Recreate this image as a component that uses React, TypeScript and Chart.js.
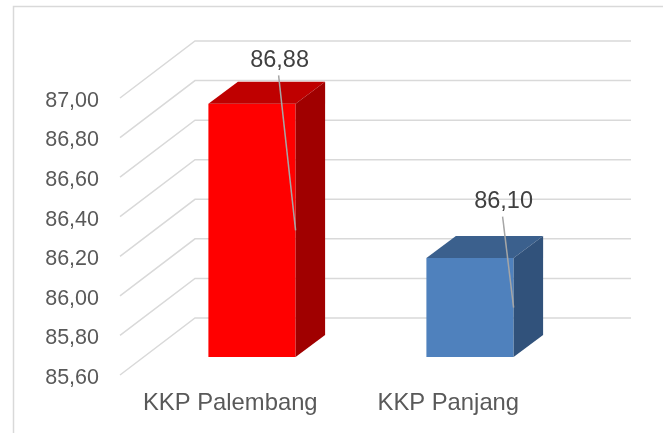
import React, { useEffect, useRef } from "react";
import { Chart, registerables } from "chart.js";

Chart.register(...registerables);

const categories = ["KKP Palembang", "KKP Panjang"];
const values = [86.88, 86.1];
const yTicks = [85.6, 85.8, 86.0, 86.2, 86.4, 86.6, 86.8, 87.0];
const frontColors = ["#FF0000", "#4F81BD"];
const topColors = ["#BF0000", "#3B608D"];
const sideColors = ["#A00000", "#31527B"];
const labelShifts = [[-17, -172], [-11, -108]];

const fmt = (v: number) => v.toFixed(2).replace(".", ",");
const FONT = "'Liberation Sans', Arial, sans-serif";
const GRID = "#D9D9D9";

const wall = { dx: 75, dy: -57 };
const barOffset = { dx: 23, dy: -18 };
const barDepth = { dx: 29.5, dy: -22 };

const poly = (ctx: CanvasRenderingContext2D, pts: number[][], fill: string) => {
  ctx.beginPath();
  pts.forEach(([x, y], i) => (i ? ctx.lineTo(x, y) : ctx.moveTo(x, y)));
  ctx.closePath();
  ctx.fillStyle = fill;
  ctx.fill();
};

// nudges a scale's tick labels without moving the scale itself
const nudgeLabels = (s: any, dx: number, dy: number) => {
  if (s.__nudged) return;
  s.__nudged = true;
  const orig = s.drawLabels;
  s.drawLabels = function (area: any) {
    s.ctx.save();
    s.ctx.translate(dx, dy);
    orig.call(s, area);
    s.ctx.restore();
  };
};

const threeD = {
  id: "threeD",
  beforeDraw(chart: any) {
    const { ctx, chartArea, scales } = chart;
    ctx.save();
    ctx.strokeStyle = GRID;
    ctx.lineWidth = 1.5;
    ctx.beginPath();
    ctx.moveTo(13.5, 433);
    ctx.lineTo(13.5, 6.5);
    ctx.lineTo(663, 6.5);
    ctx.stroke();
    yTicks.forEach((t) => {
      const y = scales.y.getPixelForValue(t);
      ctx.beginPath();
      ctx.moveTo(chartArea.left, y);
      ctx.lineTo(chartArea.left + wall.dx, y + wall.dy);
      ctx.lineTo(chartArea.right + wall.dx, y + wall.dy);
      ctx.stroke();
    });
    ctx.restore();
  },
  beforeDatasetDraw(chart: any) {
    chart.ctx.save();
    chart.ctx.translate(barOffset.dx, barOffset.dy);
  },
  afterDatasetDraw(chart: any) {
    chart.ctx.restore();
  },
  afterDatasetsDraw(chart: any) {
    const { ctx } = chart;
    const bars = chart.getDatasetMeta(0).data;
    const { dx, dy } = barDepth;
    bars.forEach((b: any, i: number) => {
      const l = b.x - b.width / 2 + barOffset.dx;
      const r = b.x + b.width / 2 + barOffset.dx;
      const t = b.y + barOffset.dy;
      const bt = b.base + barOffset.dy;
      poly(ctx, [[l, t], [r, t], [r + dx, t + dy], [l + dx, t + dy]], topColors[i]);
      poly(ctx, [[r, t], [r + dx, t + dy], [r + dx, bt + dy], [r, bt]], sideColors[i]);
    });
    bars.forEach((b: any, i: number) => {
      const r = b.x + b.width / 2 + barOffset.dx;
      const mid = (b.y + b.base) / 2 + barOffset.dy;
      const lx = r + labelShifts[i][0];
      const ly = mid + labelShifts[i][1];
      ctx.save();
      ctx.strokeStyle = "#A6A6A6";
      ctx.lineWidth = 1.5;
      ctx.beginPath();
      ctx.moveTo(lx, ly + 17);
      ctx.lineTo(r, mid);
      ctx.stroke();
      ctx.fillStyle = "#404040";
      ctx.font = `23.5px ${FONT}`;
      ctx.textAlign = "center";
      ctx.textBaseline = "middle";
      ctx.fillText(fmt(values[i]), lx + 1, ly + 2);
      ctx.restore();
    });
  },
};

export default function App() {
  const ref = useRef<HTMLCanvasElement>(null);
  useEffect(() => {
    const chart = new Chart(ref.current as HTMLCanvasElement, {
      type: "bar",
      data: {
        labels: categories,
        datasets: [
          {
            data: values,
            base: yTicks[0],
            backgroundColor: frontColors,
            barPercentage: 0.4,
            categoryPercentage: 1,
          },
        ],
      },
      plugins: [threeD],
      options: {
        responsive: false,
        animation: false,
        layout: { padding: { left: 0, top: 98, right: 107, bottom: 0 } },
        plugins: { legend: { display: false }, tooltip: { enabled: false } },
        scales: {
          x: {
            grid: { display: false },
            border: { display: false },
            afterFit: (s: any) => { s.height = 58; },
            afterUpdate: (s: any) => nudgeLabels(s, 1.3, 0),
            ticks: {
              color: "#595959",
              padding: 6,
              maxRotation: 0,
              autoSkip: false,
              font: { family: FONT, size: 23.8 },
            },
          },
          y: {
            min: 85.6,
            max: 87,
            grid: { display: false },
            border: { display: false },
            afterFit: (s: any) => { s.width = 120; },
            afterBuildTicks: (s: any) => { s.ticks = yTicks.map((value) => ({ value })); },
            afterUpdate: (s: any) => nudgeLabels(s, 0, 3),
            ticks: {
              color: "#595959",
              padding: 13,
              callback: (v: any) => fmt(Number(v)),
              font: { family: FONT, size: 21.5 },
            },
          },
        },
      },
    } as any);
    return () => chart.destroy();
  }, []);
  return (
    <div style={{ position: "absolute", left: 0, top: 0, width: 663, height: 433 }}>
      <canvas ref={ref} width={663} height={433} style={{ display: "block" }} />
    </div>
  );
}
